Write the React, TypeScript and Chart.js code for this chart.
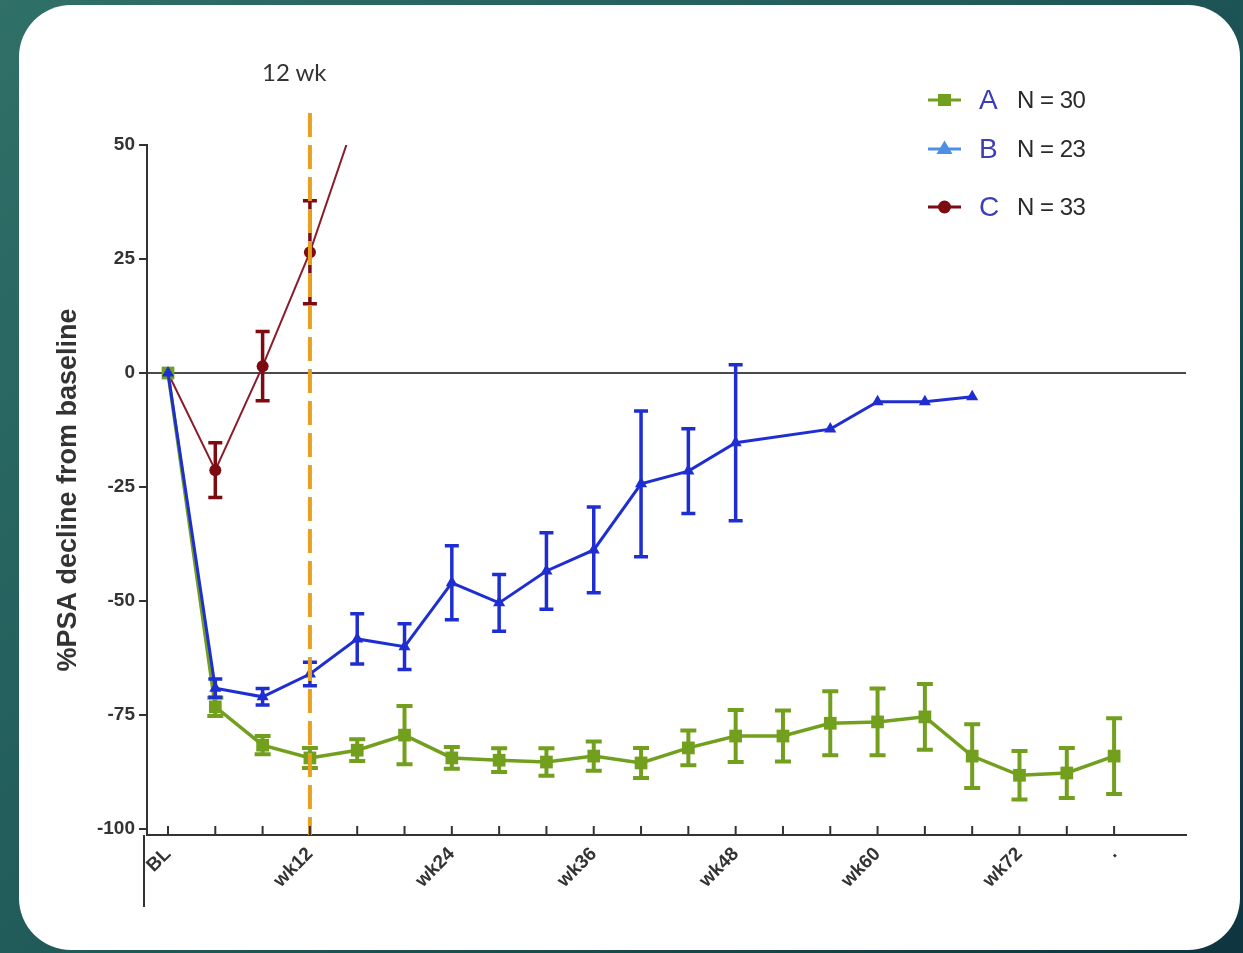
import React, { useEffect, useRef } from 'react';
import { Chart, registerables } from 'chart.js';

Chart.register(...registerables);

// ---- data ----
const xLabels = ['BL', '', '', 'wk12', '', '', 'wk24', '', '', 'wk36', '', '', 'wk48', '', '', 'wk60', '', '', 'wk72', '', '.'];
const yTicks = [-100, -75, -50, -25, 0, 25, 50];

const seriesA = [0, -73.2, -81.6, -84.4, -82.7, -79.4, -84.4, -84.9, -85.3, -84, -85.5, -82.2, -79.6, -79.6, -76.8, -76.5, -75.4, -84, -88.2, -87.7, -84];
const errorsA = [0, 2, 2, 2.2, 2.4, 6.4, 2.4, 2.6, 3, 3.2, 3.3, 3.8, 5.7, 5.6, 7, 7.3, 7.2, 7, 5.3, 5.5, 8.3];

const seriesB = [0, -69.1, -71, -66, -58.3, -60, -46, -50.4, -43.4, -38.8, -24.3, -21.5, -15.3, null, -12.3, -6.3, -6.3, -5.2];
const errorsB = [0, 2, 1.8, 2.6, 5.5, 5, 8.1, 6.2, 8.4, 9.4, 16, 9.3, 17.1, null, 0, 0, 0, 0];

const seriesC = [0, -21.3, 1.5, 26.5, 57];
const errorsC = [0, 6, 7.6, 11.3, 0];

const legendNames = ['A', 'B', 'C'];
const legendCounts = ['N = 30', 'N = 23', 'N = 33'];

const FONT = "'Liberation Sans', Arial, sans-serif";
const colA = '#72a01e';
const colB = '#1f2ed1';
const colC = '#7d0b12';

const toPoints = (arr: (number | null)[]) => arr.map((v, i) => ({ x: i, y: v }));

const overlayPlugin = {
  id: 'overlay',
  afterDatasetDraw(chart: any, args: any) {
    const ds: any = chart.data.datasets[args.index];
    const errs: (number | null)[] = ds.errors;
    if (!errs) return;
    const { ctx, chartArea } = chart;
    const ys = chart.scales.y;
    ctx.save();
    ctx.beginPath();
    ctx.rect(chartArea.left, chartArea.top - 3, chartArea.right - chartArea.left, chartArea.bottom - chartArea.top + 6);
    ctx.clip();
    ctx.strokeStyle = ds.errorColor;
    ctx.lineWidth = ds.errorWidth;
    const cap = ds.capWidth / 2;
    args.meta.data.forEach((pt: any, i: number) => {
      const v = ds.data[i] ? ds.data[i].y : null;
      const e = errs[i];
      if (v == null || !e) return;
      const top = ys.getPixelForValue(v + e);
      const bot = ys.getPixelForValue(v - e);
      ctx.beginPath();
      ctx.moveTo(pt.x, top);
      ctx.lineTo(pt.x, bot);
      ctx.moveTo(pt.x - cap, top);
      ctx.lineTo(pt.x + cap, top);
      ctx.moveTo(pt.x - cap, bot);
      ctx.lineTo(pt.x + cap, bot);
      ctx.stroke();
    });
    ctx.restore();
  },
  afterDatasetsDraw(chart: any) {
    const { ctx, chartArea } = chart;
    const x = chart.scales.x.getPixelForValue(3);
    ctx.save();
    ctx.strokeStyle = '#e8a020';
    ctx.lineWidth = 4;
    ctx.setLineDash([24, 8]);
    ctx.beginPath();
    ctx.moveTo(x, chartArea.top - 32);
    ctx.lineTo(x, chartArea.bottom);
    ctx.stroke();
    ctx.restore();
  },
  afterDraw(chart: any) {
    const { ctx, chartArea } = chart;
    const xs = chart.scales.x;
    ctx.save();
    ctx.strokeStyle = '#333';
    ctx.lineWidth = 2;
    ctx.beginPath();
    xs.ticks.forEach((t: any) => {
      const px = xs.getPixelForValue(t.value);
      ctx.moveTo(px, chartArea.bottom);
      ctx.lineTo(px, chartArea.bottom - 9);
    });
    ctx.moveTo(chartArea.left - 3, chartArea.bottom);
    ctx.lineTo(chartArea.left - 3, chartArea.bottom + 72);
    ctx.stroke();
    ctx.restore();
  },
};

function Marker({ kind, color }: { kind: string; color: string }) {
  return (
    <svg width={36} height={22} style={{ display: 'block' }}>
      <line x1={1} y1={11} x2={34} y2={11} stroke={color} strokeWidth={3} />
      {kind === 'square' && <rect x={11} y={5} width={13} height={12} fill={color} />}
      {kind === 'triangle' && <polygon points="17.5,2.5 25.5,16 9.5,16" fill={color} />}
      {kind === 'circle' && <circle cx={17.5} cy={11} r={6.5} fill={color} />}
    </svg>
  );
}

export default function App() {
  const canvasRef = useRef<HTMLCanvasElement | null>(null);

  useEffect(() => {
    if (!canvasRef.current) return;
    const chart = new Chart(canvasRef.current, {
      type: 'line',
      data: {
        datasets: [
          {
            label: 'A',
            data: toPoints(seriesA),
            borderColor: colA,
            backgroundColor: colA,
            borderWidth: 3.5,
            pointStyle: 'rect',
            pointRadius: 9,
            pointBorderWidth: 0,
            order: 1,
            errors: errorsA,
            errorColor: colA,
            errorWidth: 4,
            capWidth: 16,
          } as any,
          {
            label: 'B',
            data: toPoints(seriesB),
            borderColor: colB,
            backgroundColor: colB,
            borderWidth: 3,
            pointStyle: 'triangle',
            pointRadius: 7,
            pointBorderWidth: 0,
            spanGaps: true,
            order: 0,
            errors: errorsB,
            errorColor: colB,
            errorWidth: 3.5,
            capWidth: 14,
          } as any,
          {
            label: 'C',
            data: toPoints(seriesC),
            borderColor: '#8a1c2c',
            backgroundColor: colC,
            borderWidth: 2,
            pointStyle: 'circle',
            pointRadius: 6,
            pointBorderWidth: 0,
            order: 2,
            errors: errorsC,
            errorColor: colC,
            errorWidth: 3.5,
            capWidth: 14,
          } as any,
        ],
      },
      options: {
        animation: false,
        responsive: false,
        events: [],
        layout: { padding: { left: 48, top: 145, right: 57, bottom: 58 } },
        plugins: { legend: { display: false }, tooltip: { enabled: false } },
        scales: {
          x: {
            type: 'linear',
            min: -0.444,
            max: 21.52,
            afterBuildTicks: (s: any) => {
              s.ticks = xLabels.map((_, i) => ({ value: i }));
            },
            afterFit: (s: any) => {
              s.height = 60;
            },
            grid: { display: false, drawTicks: false },
            border: { display: true, color: '#333', width: 2 },
            ticks: {
              autoSkip: false,
              minRotation: 45,
              maxRotation: 45,
              padding: 8,
              color: '#333',
              font: { family: FONT, size: 19, weight: 'bold' },
              callback: (v: any) => xLabels[v] ?? '',
            },
          },
          y: {
            min: -101.3,
            max: 50,
            afterBuildTicks: (s: any) => {
              s.ticks = yTicks.map((v) => ({ value: v }));
            },
            afterFit: (s: any) => {
              s.width = 99;
            },
            grid: {
              color: (c: any) => (c.tick && c.tick.value === 0 ? '#4a4a4a' : 'rgba(0,0,0,0)'),
              lineWidth: 2,
              drawTicks: true,
              tickLength: 8,
              tickColor: '#333',
              tickWidth: 2,
            },
            border: { display: true, color: '#333', width: 2 },
            ticks: { color: '#333', padding: 4, font: { family: FONT, size: 19, weight: 'bold' } },
            title: {
              display: true,
              text: '%PSA decline from baseline',
              color: '#333',
              font: { family: FONT, size: 27, weight: 'bold' },
              padding: { top: 4, bottom: 4 },
            },
          },
        },
      } as any,
      plugins: [overlayPlugin],
    });
    return () => chart.destroy();
  }, []);

  const legendTops = [100, 149, 207];
  const legendKinds = ['square', 'triangle', 'circle'];
  const legendColors = [colA, '#4d8fe6', colC];

  return (
    <div
      style={{
        position: 'absolute',
        left: 0,
        top: 0,
        width: 1243,
        height: 953,
        overflow: 'hidden',
        background: 'linear-gradient(135deg, #2f7068 0%, #1f5858 50%, #0e3540 100%)',
      }}
    >
      <div
        style={{
          position: 'absolute',
          left: 19,
          top: 5,
          width: 1221,
          height: 945,
          borderRadius: 52,
          background: '#ffffff',
        }}
      />
      <canvas ref={canvasRef} width={1243} height={953} style={{ position: 'absolute', left: 0, top: 0, display: 'block' }} />
      <div
        style={{
          position: 'absolute',
          left: 262,
          top: 56,
          fontFamily: 'Lato, sans-serif',
          fontSize: 24,
          color: '#333',
          lineHeight: '32px',
        }}
      >
        12 wk
      </div>
      {legendNames.map((name, i) => (
        <div
          key={name}
          style={{
            position: 'absolute',
            left: 927,
            top: legendTops[i] - 16,
            height: 32,
            display: 'flex',
            alignItems: 'center',
            fontFamily: FONT,
          }}
        >
          <Marker kind={legendKinds[i]} color={legendColors[i]} />
          <span style={{ marginLeft: 16, fontSize: 28, color: '#3d3db5', width: 38 }}>{name}</span>
          <span style={{ fontSize: 24, color: '#2a2a2a', letterSpacing: -0.5 }}>{legendCounts[i]}</span>
        </div>
      ))}
    </div>
  );
}
